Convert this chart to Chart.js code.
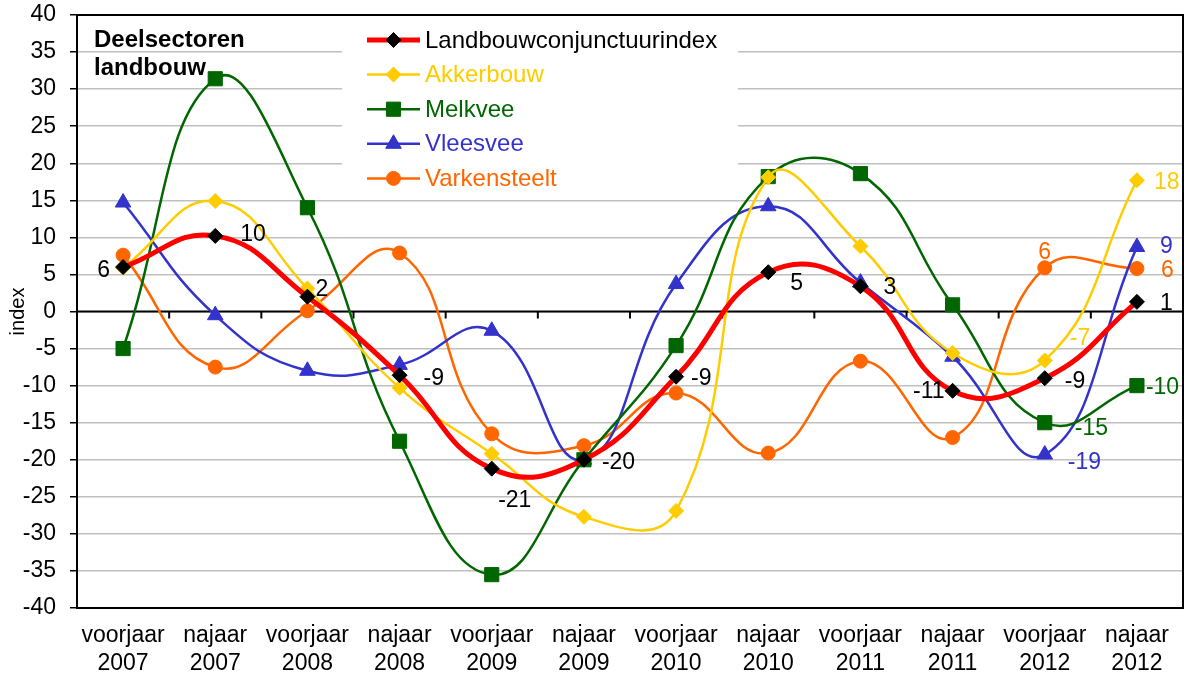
<!DOCTYPE html>
<html>
<head>
<meta charset="utf-8">
<script src="https://cdn.jsdelivr.net/npm/chart.js@4/dist/chart.umd.min.js"></script>
<style>
  html, body { margin: 0; padding: 0; background: #fff; }
  #wrap { width: 1184px; height: 677px; position: relative; }
</style>
</head>
<body>
<div id="wrap"><canvas id="chart" width="1184" height="677"></canvas></div>
<script>
// periods (two-line tick labels)
const periods = [
    ['voorjaar', '2007'], ['najaar', '2007'], ['voorjaar', '2008'], ['najaar', '2008'],
    ['voorjaar', '2009'], ['najaar', '2009'], ['voorjaar', '2010'], ['najaar', '2010'],
    ['voorjaar', '2011'], ['najaar', '2011'], ['voorjaar', '2012'], ['najaar', '2012'],
];

const landbouw     = [6.0, 10.2, 2.0, -8.6, -21.2, -20.0, -8.8, 5.3, 3.4, -10.7, -9.0, 1.3];
const akkerbouw    = [5.9, 14.9, 3.1, -10.3, -19.2, -27.7, -26.9, 18.1, 8.8, -5.6, -6.6, 17.7];
const melkvee      = [-5.0, 31.4, 14.0, -17.5, -35.5, -20.0, -4.6, 18.2, 18.6, 0.9, -15.0, -10.0];
const vleesvee     = [14.7, -0.5, -8.0, -7.2, -2.6, -20.0, 3.7, 14.2, 3.9, -6.1, -19.3, 8.7];
const varkensteelt = [7.6, -7.5, 0.1, 7.9, -16.5, -18.1, -11.0, -19.1, -6.7, -17.0, 5.9, 5.8];

const yTicks = { min: -40, max: 40, step: 5 };

// value labels: index of point -> [dx, dy, align] relative to the marker
const lblLandbouw = {
    0: [-13, 3, 'right'], 1: [25, -2, 'left'], 2: [8, -8, 'left'], 3: [24, 2, 'left'],
    4: [23, 31, 'center'], 5: [18, 2, 'left'], 6: [15, 1, 'left'], 7: [22, 10, 'left'],
    8: [23, 0, 'left'], 9: [-8, 0, 'right'], 10: [20, 2, 'left'], 11: [23, 1, 'left'],
};
const lblAkkerbouw = { 10: [25, -23, 'left'], 11: [17, 1, 'left'] };
const lblMelkvee   = { 10: [30, 5, 'left'], 11: [9, 1, 'left'] };
const lblVleesvee  = { 10: [23, 7, 'left'], 11: [23, -1, 'left'] };
const lblVarken    = { 10: [0, -16, 'center'], 11: [24, 1, 'left'] };

const FONT = 'Arial, "Liberation Sans", sans-serif';

function series(label, data, color, width, style, radius, pointColor, places) {
    return {
        label: label, data: data,
        borderColor: color, borderWidth: width,
        backgroundColor: color,
        pointStyle: style, pointRadius: radius, pointHoverRadius: radius,
        pointBackgroundColor: pointColor, pointBorderColor: pointColor, pointBorderWidth: 1,
        tension: 0.45, fill: false,
        labelPlaces: places,
    };
}

const datasets = [
    series('Landbouwconjunctuurindex', landbouw, '#ff0000', 5, 'rectRot', 7.5, '#000000', lblLandbouw),
    series('Akkerbouw', akkerbouw, '#ffcc00', 2.5, 'rectRot', 7.5, '#ffcc00', lblAkkerbouw),
    series('Melkvee', melkvee, '#006600', 2.5, 'rect', 10, '#006600', lblMelkvee),
    series('Vleesvee', vleesvee, '#3333cc', 2.5, 'triangle', 9, '#3333cc', lblVleesvee),
    series('Varkensteelt', varkensteelt, '#ff6600', 2.5, 'circle', 7, '#ff6600', lblVarken),
];

// frame, zero axis with tick marks, legend box
const framePlugin = {
    id: 'frame',
    beforeDatasetsDraw(chart) {
        const { ctx, chartArea: a, scales } = chart;
        const x = scales.x, y = scales.y;
        ctx.save();
        // legend background hides the grid
        const lx = 342, ly = a.top + 1, lw = 396, lh = 180;
        ctx.fillStyle = '#fff';
        ctx.fillRect(lx, ly, lw, lh);

        // zero line + boundary ticks
        const y0 = y.getPixelForValue(0);
        ctx.strokeStyle = '#000';
        ctx.lineWidth = 2;
        ctx.beginPath();
        ctx.moveTo(a.left, y0); ctx.lineTo(a.right, y0);
        for (let i = 0; i < periods.length - 1; i++) {
            const xm = (x.getPixelForValue(i) + x.getPixelForValue(i + 1)) / 2;
            ctx.moveTo(xm, y0); ctx.lineTo(xm, y0 + 7);
        }
        ctx.stroke();

        // plot border
        ctx.lineWidth = 2;
        ctx.strokeRect(a.left, a.top, a.right - a.left, a.bottom - a.top);
        ctx.restore();
    },
    afterDatasetsDraw(chart) {
        const { ctx, chartArea: a } = chart;
        ctx.save();
        // title
        ctx.fillStyle = '#000';
        ctx.font = 'bold 24px ' + FONT;
        ctx.textAlign = 'left';
        ctx.textBaseline = 'middle';
        ctx.fillText('Deelsectoren', a.left + 17, 40);
        ctx.fillText('landbouw', a.left + 17, 68);

        // legend
        const x0 = 367, x1 = 420, top = 40, step = 34.6;
        chart.data.datasets.forEach((ds, i) => {
            const yy = top + i * step;
            ctx.strokeStyle = ds.borderColor;
            ctx.lineWidth = ds.borderWidth;
            ctx.beginPath(); ctx.moveTo(x0, yy); ctx.lineTo(x1, yy); ctx.stroke();
            ctx.fillStyle = ds.pointBackgroundColor;
            ctx.strokeStyle = ds.pointBorderColor;
            ctx.lineWidth = 1;
            Chart.helpers.drawPoint(ctx, {
                pointStyle: ds.pointStyle, radius: ds.pointRadius, rotation: 0, borderWidth: 1,
            }, (x0 + x1) / 2, yy);
            ctx.fillStyle = i === 0 ? '#000' : ds.borderColor;
            ctx.font = '24px ' + FONT;
            ctx.textAlign = 'left';
            ctx.textBaseline = 'middle';
            ctx.fillText(ds.label, 425, yy + 1);
        });

        // value labels
        ctx.font = '23px ' + FONT;
        ctx.textBaseline = 'middle';
        chart.data.datasets.forEach((ds, i) => {
            const meta = chart.getDatasetMeta(i);
            Object.keys(ds.labelPlaces).forEach(k => {
                const j = +k;
                const [dx, dy, align] = ds.labelPlaces[k];
                const p = meta.data[j];
                ctx.fillStyle = i === 0 ? '#000' : ds.borderColor;
                ctx.textAlign = align;
                ctx.fillText(String(Math.round(ds.data[j])), p.x + dx, p.y + dy + 1);
            });
        });
        ctx.restore();
    },
};

new Chart(document.getElementById('chart'), {
    type: 'line',
    data: { labels: periods, datasets: datasets },
    plugins: [framePlugin],
    options: {
        responsive: false, animation: false,
        layout: { autoPadding: false, padding: { top: 15, right: 1, left: 0, bottom: 0 } },
        plugins: { legend: { display: false }, tooltip: { enabled: false } },
        scales: {
            x: {
                offset: true,
                grid: { display: false, drawTicks: false },
                border: { display: false },
                ticks: { color: '#000', font: { family: FONT, size: 23 }, padding: 14, maxRotation: 0, autoSkip: false },
                afterFit(s) { s.height = 69; s.paddingLeft = 0; s.paddingRight = 0; },
            },
            y: {
                min: yTicks.min, max: yTicks.max,
                grid: { color: '#c0c0c0', lineWidth: 1.5, tickColor: '#000', tickLength: 7 },
                border: { display: false },
                ticks: { stepSize: yTicks.step, color: '#000', font: { family: FONT, size: 23 }, padding: 14 },
                title: { display: true, text: 'index', color: '#000', font: { family: FONT, size: 20 }, padding: { top: 6, bottom: 0 } },
                afterFit(s) { s.width = 77; s.paddingTop = 0; s.paddingBottom = 0; },
            },
        },
    },
});
</script>
</body>
</html>
